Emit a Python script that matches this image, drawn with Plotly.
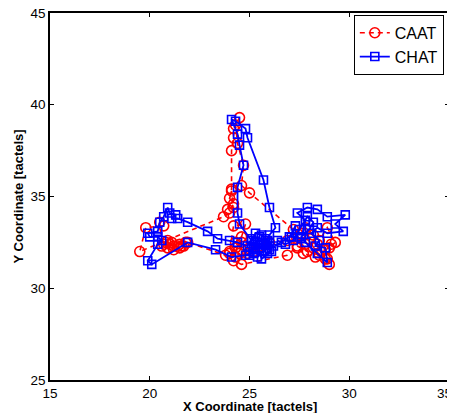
import plotly.graph_objects as go

# CAAT trajectory (red dashed, circles)
caat_x = [24.6, 24.3, 24.0, 23.8, 21.9, 21.7, 21.5, 21.2, 20.9, 20.7, 20.9, 21.1, 21.4, 21.6, 21.8, 21.5,
          21.2, 21.0, 20.8, 20.6, 20.5, 20.7, 19.8, 19.5, 23.7, 24.0, 24.2, 24.0, 24.1, 24.2, 23.9, 24.1,
          24.1, 24.2, 24.2, 24.5, 24.3, 24.4, 24.7, 24.6, 25.0, 27.2, 27.6, 27.8, 28.2, 28.5, 28.9, 29.3,
          29.0, 28.6, 28.2, 27.8, 27.4, 27.7, 28.3, 28.8, 28.4, 28.0, 26.9, 26.0, 25.5, 25.2, 24.9, 24.6,
          24.3, 24.6, 24.8, 24.2, 24.0, 24.3, 24.5, 24.2, 24.6, 26.9, 27.4, 27.9, 28.5, 28.8, 29.1, 28.9,
          29.0]
caat_y = [32.5, 32.2, 31.9, 31.8, 32.5, 32.3, 32.2, 32.1, 32.2, 32.4, 32.6, 32.5, 32.3, 32.3, 32.5, 32.4,
          32.3, 32.4, 32.5, 32.3, 33.6, 33.4, 33.3, 32.0, 33.9, 34.1, 34.6, 34.9, 35.3, 34.4, 34.3, 35.4,
          37.5, 38.2, 38.7, 39.3, 38.9, 37.9, 36.7, 35.6, 35.2, 33.2, 33.0, 33.3, 32.9, 32.6, 33.3, 32.5,
          32.2, 32.0, 32.2, 32.4, 32.2, 31.9, 31.7, 31.6, 32.4, 32.7, 32.6, 32.5, 32.3, 32.0, 31.9, 32.1,
          32.5, 32.8, 33.5, 33.4, 32.0, 31.7, 31.9, 31.5, 31.3, 31.8, 32.3, 32.0, 31.8, 32.1, 32.4, 31.6,
          31.3]

# CHAT trajectory (blue solid, squares)
chat_x = [25.2, 24.8, 24.1, 23.3, 21.9, 20.1, 19.9, 20.4, 20.6, 20.4, 20.0, 19.9, 20.4, 20.5, 20.7,
          20.9, 21.0, 21.3, 21.1, 21.4, 21.9, 22.9, 23.4, 24.0, 24.4, 24.9, 25.1, 25.3, 25.5, 25.2,
          25.0, 25.4, 25.7, 25.9, 25.6, 25.3, 25.1, 24.5, 24.4, 24.4, 24.7, 24.5, 24.4, 24.1, 24.3,
          24.8, 24.9, 25.7, 26.0, 26.3, 26.0, 25.8, 25.5, 25.9, 26.2, 25.8, 25.4, 25.6, 26.1, 25.9,
          25.2, 25.0, 25.6, 26.0, 26.6, 27.0, 27.3, 27.1, 27.6, 27.8, 27.4, 27.9, 28.4, 28.9, 29.8,
          29.3, 29.7, 28.9, 28.4, 28.1, 28.5, 28.3, 28.8, 28.9, 28.4, 27.8, 27.6, 28.0, 28.2, 27.9,
          27.5, 27.2, 26.8, 26.4]
chat_y = [31.9, 31.8, 31.7, 32.1, 32.5, 31.3, 31.5, 32.4, 32.6, 32.8, 32.8, 33.0, 33.1, 33.6, 33.9,
          34.4, 34.1, 34.0, 33.8, 33.8, 33.6, 33.1, 32.7, 32.6, 32.5, 32.3, 32.7, 32.4, 32.8, 32.1,
          31.8, 31.7, 32.0, 32.5, 32.9, 33.0, 32.6, 33.5, 34.1, 35.5, 36.7, 37.8, 38.4, 39.2, 39.1,
          38.7, 38.2, 35.9, 34.4, 33.3, 32.9, 32.4, 32.2, 31.9, 32.3, 32.7, 32.5, 31.6, 32.0, 32.6,
          32.2, 32.0, 32.4, 32.1, 32.5, 32.8, 33.4, 32.8, 32.7, 33.7, 34.1, 34.4, 34.3, 33.9, 34.0,
          33.5, 33.1, 33.0, 33.3, 33.0, 32.6, 32.3, 32.2, 31.4, 31.9, 32.5, 32.8, 33.2, 33.6, 33.9,
          33.2, 32.6, 32.4, 32.6]

x_ticks = [15, 20, 25, 30, 35]
x_tick_labels = ["15", "20", "25", "30", "35"]
y_ticks = [25, 30, 35, 40, 45]
y_tick_labels = ["25", "30", "35", "40", "45"]
x_title = "X Coordinate [tactels]"
y_title = "Y Coordinate [tactels]"

font_family = "Liberation Sans, Arial, sans-serif"
tick_font = dict(family=font_family, size=13.5, color="black")

fig = go.Figure()
fig.add_trace(go.Scatter(
    x=caat_x, y=caat_y, mode="lines+markers", name="CAAT",
    line=dict(color="#ff0000", width=1.6, dash="5px,4px"),
    marker=dict(symbol="circle-open", size=10, color="#ff0000", line=dict(width=1.6, color="#ff0000")),
))
fig.add_trace(go.Scatter(
    x=chat_x, y=chat_y, mode="lines+markers", name="CHAT",
    line=dict(color="#0000ff", width=1.8),
    marker=dict(symbol="square-open", size=8, color="#0000ff", line=dict(width=1.6, color="#0000ff")),
))

axis_common = dict(
    showgrid=False, zeroline=False, showline=True, linecolor="black", linewidth=1.5,
    mirror="ticks", ticks="inside", ticklen=4, tickcolor="black", automargin=False,
    ticklabeloverflow="allow", tickfont=tick_font,
)
# last x tick label sits on the page edge: draw it as a right-anchored annotation instead
fig.update_xaxes(range=[15, 35], tickvals=x_ticks, ticktext=x_tick_labels[:-1] + [""], **axis_common)
fig.update_yaxes(range=[25, 45], tickvals=y_ticks, ticktext=y_tick_labels, **axis_common)

fig.add_annotation(text=x_tick_labels[-1], xref="x", yref="paper", x=x_ticks[-1], y=0,
                   xanchor="right", xshift=5, yanchor="middle", yshift=-13, showarrow=False,
                   font=tick_font)
fig.add_annotation(text="<b>" + x_title + "</b>", xref="paper", yref="paper", x=0.5, y=0,
                   yshift=-26, yanchor="middle", showarrow=False,
                   font=dict(family=font_family, size=13, color="black"))
fig.add_annotation(text="<b>" + y_title + "</b>", xref="paper", yref="paper", x=0, y=0.5,
                   xshift=-32, xanchor="center", textangle=-90, showarrow=False,
                   font=dict(family=font_family, size=13, color="black"))

# page body has an 8px margin, so the figure is sized/offset to compensate
fig.update_layout(
    width=447, height=405,
    margin=dict(l=42, r=6, t=5, b=33, autoexpand=False),
    paper_bgcolor="white", plot_bgcolor="white",
    font=dict(family=font_family, color="black"),
    legend=dict(x=0.987, y=0.995, xanchor="right", yanchor="top",
                bgcolor="white", bordercolor="black", borderwidth=1,
                font=dict(family=font_family, size=16, color="black"),
                tracegroupgap=0, itemwidth=30),
    showlegend=True,
)

fig.write_html("out.html")
